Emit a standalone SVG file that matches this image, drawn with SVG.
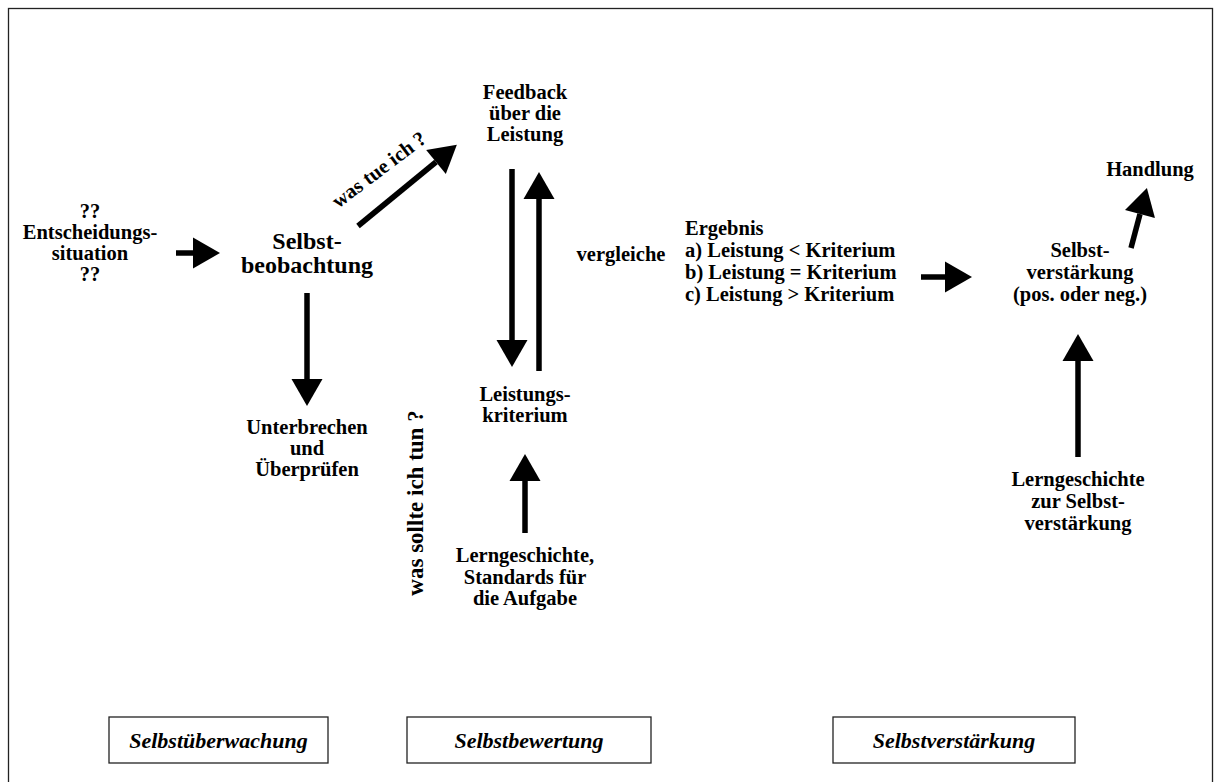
<svg xmlns="http://www.w3.org/2000/svg" width="1215" height="782" viewBox="0 0 1215 782">
<style>
text{font-family:'Liberation Serif','DejaVu Serif',serif;font-weight:bold;fill:#000;text-anchor:middle}
.t{font-size:20.5px}
.big{font-size:24px}
.lft{text-anchor:start}
.lbl{font-size:22px;font-style:italic}
.box{fill:#fff;stroke:#222;stroke-width:1.3}
.arr{stroke:#000;stroke-width:5.5;fill:none;marker-end:url(#ah)}
</style>
<defs>
<marker id="ah" markerUnits="userSpaceOnUse" markerWidth="28" markerHeight="32" refX="0" refY="15.5" orient="auto" overflow="visible">
<path d="M0,0 L27,15.5 L0,31 Z" fill="#000"/>
</marker>
</defs>
<rect x="8.5" y="8.5" width="1204" height="790" fill="#fff" stroke="#222" stroke-width="1.3"/>
<g id="connectors">
<line class="arr" x1="176" y1="253" x2="193" y2="253"/>
<line class="arr" x1="307" y1="293" x2="307" y2="379"/>
<line class="arr" x1="358" y1="226" x2="436" y2="162"/>
<line class="arr" x1="512" y1="169" x2="512" y2="340"/>
<line class="arr" x1="539" y1="371" x2="539" y2="199"/>
<line class="arr" x1="525" y1="533" x2="525" y2="481"/>
<line class="arr" x1="921" y1="277" x2="945" y2="277"/>
<line class="arr" x1="1078" y1="457" x2="1078" y2="361"/>
<line class="arr" x1="1131" y1="248" x2="1140" y2="214"/>
<text class="t" transform="translate(383,175) rotate(-37)">was tue ich ?</text>
<text style="font-size:23px" transform="translate(423,503) rotate(-90)">was sollte ich tun ?</text>
<text class="t" x="621" y="261">vergleiche</text>
</g>
<g id="entscheidung">
<text class="t" x="90" y="218">??</text>
<text class="t" x="90" y="239">Entscheidungs-</text>
<text class="t" x="90" y="260">situation</text>
<text class="t" x="90" y="281">??</text>
</g>
<g id="selbstbeobachtung">
<text class="big" x="307" y="249">Selbst-</text>
<text class="big" x="307" y="273">beobachtung</text>
</g>
<g id="unterbrechen">
<text class="t" x="307" y="434">Unterbrechen</text>
<text class="t" x="307" y="455">und</text>
<text class="t" x="307" y="476">Überprüfen</text>
</g>
<g id="feedback">
<text class="t" x="525" y="99">Feedback</text>
<text class="t" x="525" y="120">über die</text>
<text class="t" x="525" y="141">Leistung</text>
</g>
<g id="leistungskriterium">
<text class="t" x="525" y="401">Leistungs-</text>
<text class="t" x="525" y="422">kriterium</text>
</g>
<g id="lerngeschichte1">
<text class="t" x="525" y="562">Lerngeschichte,</text>
<text class="t" x="525" y="584">Standards für</text>
<text class="t" x="525" y="605">die Aufgabe</text>
</g>
<g id="ergebnis">
<text class="t lft" x="685" y="235">Ergebnis</text>
<text class="t lft" x="685" y="257">a) Leistung &lt; Kriterium</text>
<text class="t lft" x="685" y="279">b) Leistung = Kriterium</text>
<text class="t lft" x="685" y="301">c) Leistung &gt; Kriterium</text>
</g>
<g id="selbstverstaerkung">
<text class="t" x="1080" y="257">Selbst-</text>
<text class="t" x="1080" y="279">verstärkung</text>
<text class="t" x="1080" y="301">(pos. oder neg.)</text>
</g>
<g id="handlung">
<text class="t" x="1150" y="176">Handlung</text>
</g>
<g id="lerngeschichte2">
<text class="t" x="1078" y="486">Lerngeschichte</text>
<text class="t" x="1078" y="508">zur Selbst-</text>
<text class="t" x="1078" y="530">verstärkung</text>
</g>
<g id="label-selbstueberwachung">
<rect class="box" x="109" y="717" width="219" height="46"/>
<text class="lbl" x="218.5" y="748">Selbstüberwachung</text>
</g>
<g id="label-selbstbewertung">
<rect class="box" x="407" y="717" width="244" height="46"/>
<text class="lbl" x="529" y="748">Selbstbewertung</text>
</g>
<g id="label-selbstverstaerkung">
<rect class="box" x="833" y="717" width="242" height="46"/>
<text class="lbl" x="954" y="748">Selbstverstärkung</text>
</g>
</svg>
